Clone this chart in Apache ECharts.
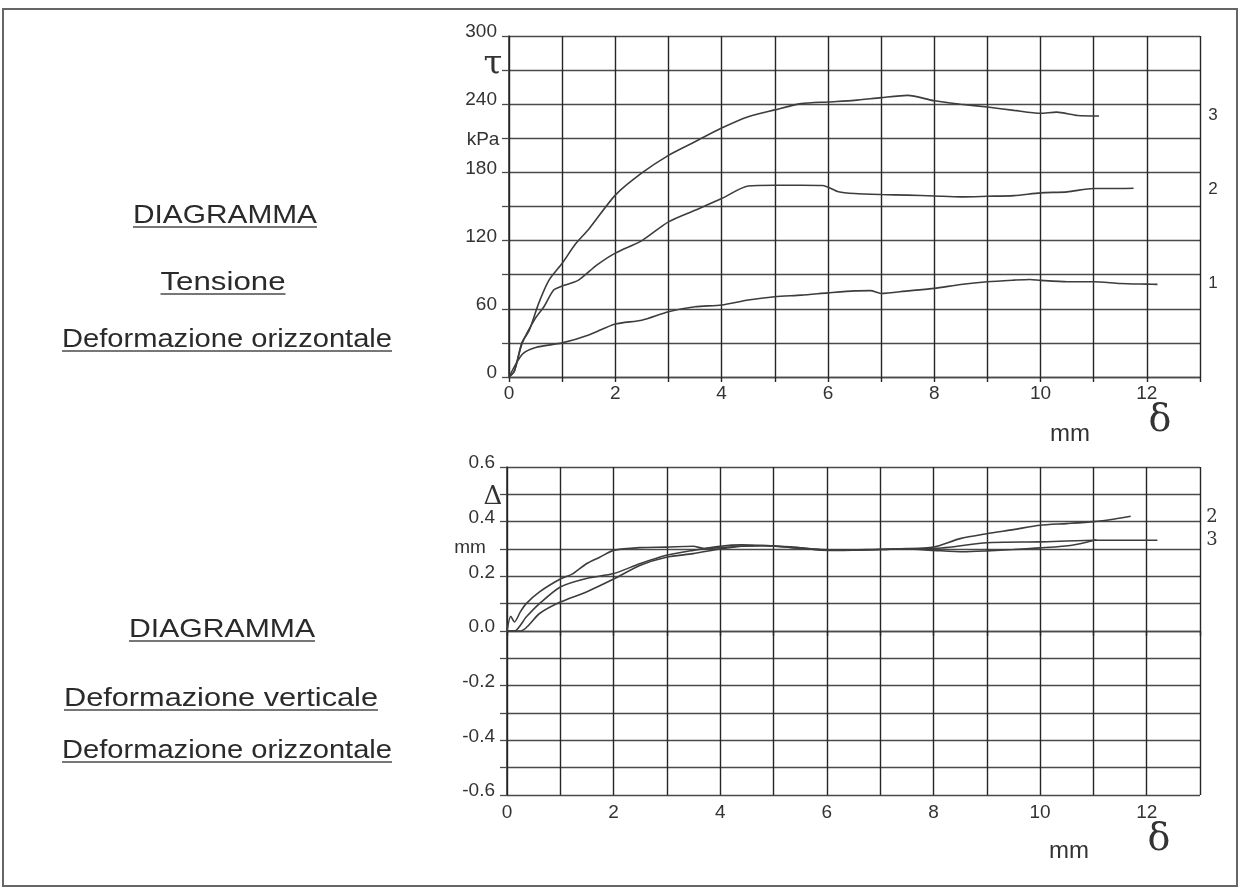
<!DOCTYPE html>
<html>
<head>
<meta charset="utf-8">
<script src="https://cdn.jsdelivr.net/npm/echarts@6/dist/echarts.min.js"></script>
<style>
html,body{margin:0;padding:0;background:#fff;}
#chart{width:1242px;height:888px;}
</style>
</head>
<body>
<div id="chart"></div>
<script>
// ---------- Data: top diagram (tau kPa vs delta mm) ----------
const tau1X = [0,0.25,0.5,1,1.5,2,2.5,3,3.5,4,4.5,5,5.5,6,6.5,6.8,7,7.5,8,8.5,9,9.5,9.8,10,10.5,11,11.5,12,12.2];
const tau1Y = [0,20,26,30,37,46.6,50,57.4,61.8,63.3,67.7,70.6,72,74,75.8,76,73.5,75.8,78,81.4,83.8,85.2,85.8,85,83.8,83.8,82.3,81.7,81.5];
const tau2X = [0,0.1,0.25,0.5,0.66,0.84,1,1.3,1.65,2,2.5,3,3.5,4,4.5,5,5.5,5.9,6.2,6.5,7,7.5,8,8.5,9,9.5,10,10.5,11,11.5,11.75];
const tau2Y = [0,5,30,52,62,76.5,80,85,98.4,109,120,136.5,146.7,157,168,168.7,168.7,168.5,163,161.4,160.5,160,159.3,158.5,159,159.6,162,162.9,165.8,165.8,166];
const tau3X = [0,0.1,0.24,0.38,0.56,0.75,1,1.25,1.5,2,2.5,3,3.5,4,4.5,5,5.5,6,6.5,7,7.5,8,8.5,9,9.5,10,10.3,10.7,11.1];
const tau3Y = [0,5,30,41,65,85,100,117,130,160,179.5,195,207,219,229,235,240.5,242,243.4,245.8,247.8,243,240,237.5,234.6,232,233,230,229.6];

// ---------- Data: bottom diagram (Delta mm vs delta mm) ----------
const dv3X = [0,0.07,0.14,0.25,0.36,0.61,1.0,1.24,1.49,1.74,2.0,2.49,2.99,3.49,3.7,4.0,4.4,4.8,5.3,5.9,6.3,7.0,7.5,8.0,8.56,9.0,9.5,10,10.6,11.06];
const dv3Y = [0,0.054,0.033,0.07,0.10,0.143,0.19,0.21,0.246,0.27,0.295,0.305,0.307,0.31,0.302,0.305,0.31,0.313,0.307,0.298,0.297,0.298,0.30,0.295,0.29,0.293,0.298,0.304,0.314,0.334];
const dv2X = [0,0.14,0.36,0.61,1.0,1.49,2.0,2.49,2.99,3.49,4.0,4.4,4.8,5.3,5.9,6.3,7.0,7.5,8.0,8.5,9.0,9.5,10,10.5,11,11.4,11.7];
const dv2Y = [0,0,0.051,0.10,0.161,0.192,0.21,0.246,0.277,0.295,0.31,0.315,0.313,0.308,0.297,0.296,0.299,0.30,0.307,0.338,0.356,0.371,0.387,0.393,0.40,0.41,0.42];
const dv1X = [0,0.26,0.61,1.0,1.49,2.0,2.49,2.99,3.49,4.0,4.4,4.8,5.3,5.9,6.3,7.0,7.5,8.0,9.0,10,11,11.7,12.2];
const dv1Y = [0,0,0.064,0.106,0.143,0.19,0.24,0.27,0.283,0.30,0.31,0.312,0.306,0.296,0.295,0.298,0.302,0.302,0.323,0.326,0.332,0.332,0.332];

// ---------- Tick label sets ----------
const xLabelsShown = [0,2,4,6,8,10,12];
const tauLabelsShown = [0,60,120,180,240,300];
const dvLabelsShown = [-0.6,-0.4,-0.2,0,0.2,0.4,0.6];

const zip = (xs, ys) => xs.map((x, i) => [x, ys[i]]);

const FONT = '"Liberation Sans", Arial, sans-serif';
const GRID_V = '#262626';
const GRID_H = '#4a4a4a';
const CURVE = '#3d3d3d';
const TXT = '#333';

function xAxisCfg(gi, margin) {
  return {
    type: 'value', gridIndex: gi, min: 0, max: 13, interval: 1,
    axisLine: { show: true, lineStyle: { color: GRID_H, width: 1.4 } },
    axisTick: { show: true, length: 5, lineStyle: { color: GRID_V, width: 1.4 } },
    splitLine: { show: true, lineStyle: { color: GRID_V, width: 1.4 } },
    axisLabel: {
      margin: margin, fontFamily: FONT, fontSize: 19, color: TXT,
      formatter: v => xLabelsShown.some(t => Math.abs(t - v) < 1e-6) ? String(Math.round(v)) : ''
    }
  };
}
function yLabelCfg(fmt) {
  return { margin: 12, fontFamily: FONT, fontSize: 19, color: TXT,
           verticalAlign: 'bottom', lineHeight: 8, formatter: fmt };
}

const option = {
  animation: false,
  backgroundColor: '#fff',
  grid: [
    { left: 509, right: 42, top: 36, height: 341 },
    { left: 507, right: 42, top: 467, height: 328 }
  ],
  xAxis: [xAxisCfg(0, 7), xAxisCfg(1, 8)],
  yAxis: [
    {
      type: 'value', gridIndex: 0, min: 0, max: 300, interval: 30,
      axisLine: { show: true, lineStyle: { color: GRID_V, width: 1.5 } },
      axisTick: { show: true, length: 7, lineStyle: { color: GRID_H, width: 1.3 } },
      splitLine: { show: true, lineStyle: { color: GRID_H, width: 1.3 } },
      axisLabel: yLabelCfg(v => tauLabelsShown.some(t => Math.abs(t - v) < 1e-6) ? String(Math.round(v)) : '')
    },
    {
      type: 'value', gridIndex: 1, min: -0.6, max: 0.6, interval: 0.1,
      axisLine: { show: true, lineStyle: { color: GRID_V, width: 1.5 } },
      axisTick: { show: true, length: 7, lineStyle: { color: GRID_H, width: 1.3 } },
      splitLine: { show: true, lineStyle: { color: GRID_H, width: 1.3 } },
      axisLabel: yLabelCfg(v => {
        const t = dvLabelsShown.find(t => Math.abs(t - v) < 1e-6);
        if (t === undefined) return '';
        return Math.abs(t) < 1e-9 ? '0.0' : t.toFixed(1);
      })
    }
  ],
  series: [
    [tau1X, tau1Y, 0], [tau2X, tau2Y, 0], [tau3X, tau3Y, 0],
    [dv1X, dv1Y, 1], [dv2X, dv2Y, 1], [dv3X, dv3Y, 1]
  ].map(([xs, ys, gi]) => ({
    type: 'line', xAxisIndex: gi, yAxisIndex: gi,
    data: zip(xs, ys), showSymbol: false, smooth: 0.25, silent: true,
    lineStyle: { color: CURVE, width: 1.6 }
  })),
  graphic: []
};

// ---------- Free text (positions are layout, not data) ----------
const measureCtx = document.createElement('canvas').getContext('2d');
function ulText(str, cx, capMid, w, fs) {
  measureCtx.font = fs + 'px ' + FONT;
  const mw = measureCtx.measureText(str).width;
  const sx = w / mw;
  const uy = capMid + 0.36 * fs + 4;
  return [
    { type: 'text', x: cx, y: capMid + 0.1 * fs, scaleX: sx, silent: true,
      style: { text: str, font: fs + 'px ' + FONT, fill: '#2a2a2a', align: 'center', verticalAlign: 'middle' } },
    { type: 'line', silent: true, shape: { x1: cx - w / 2, y1: uy, x2: cx + w / 2, y2: uy },
      style: { stroke: '#4a4a4a', lineWidth: 1.6 } }
  ];
}
function txt(str, x, y, fs, family, fill) {
  return { type: 'text', x: x, y: y, silent: true,
    style: { text: str, font: fs + 'px ' + (family || FONT), fill: fill || TXT, align: 'center', verticalAlign: 'middle' } };
}
const SERIF = '"DejaVu Serif", "Liberation Serif", serif';

option.graphic = [].concat(
  [{ type: 'rect', silent: true, shape: { x: 3, y: 9, width: 1234, height: 877 },
     style: { fill: 'none', stroke: '#666', lineWidth: 2 } }],
  ulText('DIAGRAMMA', 225, 214, 184, 25),
  ulText('Tensione', 223, 281, 125, 25),
  ulText('Deformazione orizzontale', 227, 338, 330, 25),
  ulText('DIAGRAMMA', 222, 628, 186, 25),
  ulText('Deformazione verticale', 221, 697, 314, 25),
  ulText('Deformazione orizzontale', 227, 749, 330, 25),
  [
    txt('τ', 493, 65, 34, SERIF),
    txt('kPa', 483, 140, 19),
    txt('mm', 1070, 434, 24),
    txt('δ', 1160, 421, 38, SERIF),
    txt('Δ', 493, 497, 26, SERIF),
    txt('mm', 470, 548, 19),
    txt('mm', 1069, 851, 24),
    txt('δ', 1159, 840, 38, SERIF),
    txt('3', 1213, 115, 17),
    txt('2', 1213, 189, 17),
    txt('1', 1213, 283, 17),
    txt('2', 1212, 517, 18, SERIF),
    txt('3', 1212, 540, 18, SERIF)
  ]
);

const chart = echarts.init(document.getElementById('chart'), null, { renderer: 'canvas' });
chart.setOption(option);
</script>
</body>
</html>
